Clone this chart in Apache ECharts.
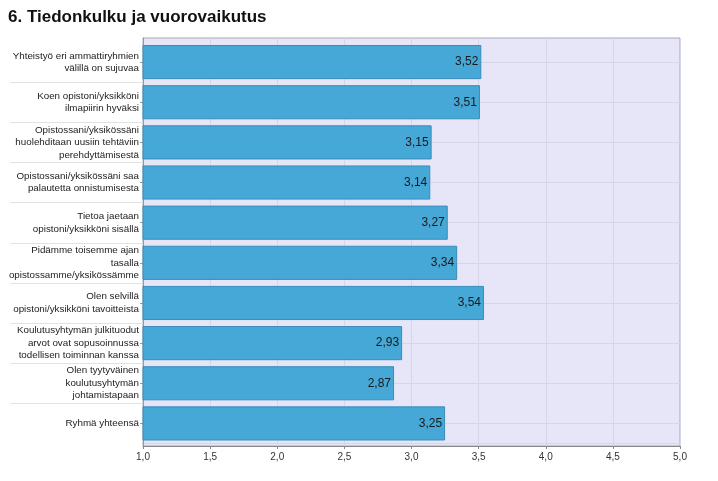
<!DOCTYPE html>
<html><head><meta charset="utf-8">
<script src="https://cdn.jsdelivr.net/npm/echarts@6/dist/echarts.min.js"></script>
<style>html,body{margin:0;padding:0;background:#fff}#c{width:718px;height:481px}</style>
</head><body><div id="c"></div>
<script>
const titleText = "6. Tiedonkulku ja vuorovaikutus";
const categories = [
  "Yhteistyö eri ammattiryhmien\nvälillä on sujuvaa",
  "Koen opistoni/yksikköni\nilmapiirin hyväksi",
  "Opistossani/yksikössäni\nhuolehditaan uusiin tehtäviin\nperehdyttämisestä",
  "Opistossani/yksikössäni saa\npalautetta onnistumisesta",
  "Tietoa jaetaan\nopistoni/yksikköni sisällä",
  "Pidämme toisemme ajan\ntasalla\nopistossamme/yksikössämme",
  "Olen selvillä\nopistoni/yksikköni tavoitteista",
  "Koulutusyhtymän julkituodut\narvot ovat sopusoinnussa\ntodellisen toiminnan kanssa",
  "Olen tyytyväinen\nkoulutusyhtymän\njohtamistapaan",
  "Ryhmä yhteensä"
];
const values = [3.52, 3.51, 3.15, 3.14, 3.27, 3.34, 3.54, 2.93, 2.87, 3.25];
const xMin = 1, xMax = 5, xStep = 0.5;

const halfCats = [];
categories.forEach((c, i) => { halfCats.push('a' + i); halfCats.push('b' + i); });
const sepCats = categories.slice(0, categories.length - 1);

const fmt = v => v.toFixed(1).replace('.', ',');
const font = 'Liberation Sans, Arial';
const band = (481 - 42 - 37.5) / categories.length;
const chart = echarts.init(document.getElementById('c'));
chart.setOption({
  animation: false,
  backgroundColor: '#fff',
  title: {
    text: titleText, left: 3, top: 4,
    textStyle: { fontFamily: font, fontSize: 17, fontWeight: 'bold', color: '#111' }
  },
  grid: [
    { left: 143, right: 38, top: 38, bottom: 35, containLabel: false, outerBoundsMode: 'none', show: true, backgroundColor: '#e6e6f8', borderColor: '#a8a8b8', borderWidth: 1, z: 0 },
    { left: 143, right: 38, top: 42, bottom: 37.5, containLabel: false, outerBoundsMode: 'none', show: false },
    { left: 143, right: 38, top: 42, bottom: 37.5 + band, containLabel: false, outerBoundsMode: 'none', show: false }
  ],
  xAxis: [
    {
      gridIndex: 0, type: 'value', min: xMin, max: xMax, interval: xStep,
      axisLine: { show: true, lineStyle: { color: '#888' } },
      axisTick: { show: true, length: 3, lineStyle: { color: '#888' } },
      axisLabel: { formatter: fmt, fontFamily: font, fontSize: 10, color: '#333', margin: 6 },
      splitLine: { show: true, lineStyle: { color: '#d6d6e8' } }
    },
    {
      gridIndex: 1, type: 'value', min: xMin, max: xMax, interval: xStep, show: false,
      splitLine: { show: false }
    },
    {
      gridIndex: 2, type: 'value', min: xMin, max: xMax, interval: xStep, show: false,
      splitLine: { show: false }
    }
  ],
  yAxis: [
    {
      gridIndex: 0, type: 'value', min: 0, max: 1, show: true,
      axisLine: { show: true, lineStyle: { color: '#999' } },
      axisTick: { show: false }, axisLabel: { show: false }, splitLine: { show: false }
    },
    {
      gridIndex: 1, type: 'category', data: categories, inverse: true,
      axisLine: { show: false },
      axisTick: { show: true, alignWithLabel: true, length: 3, lineStyle: { color: '#999' } },
      axisLabel: { fontFamily: font, fontSize: 9.8, color: '#222', lineHeight: 12.5, margin: 4 },
      splitLine: { show: false }
    },
    {
      gridIndex: 2, type: 'category', data: sepCats, inverse: true, position: 'left',
      axisLine: { show: false },
      axisTick: { show: true, length: 133, interval: (i) => i > 0, lineStyle: { color: '#e2e2e2' } },
      axisLabel: { show: false },
      splitLine: { show: false }
    },
    {
      gridIndex: 1, type: 'category', data: halfCats, inverse: true, position: 'right',
      axisLine: { show: false }, axisTick: { show: false }, axisLabel: { show: false },
      splitLine: { show: true, interval: (i) => i % 2 === 1, lineStyle: { color: '#d6d6e8' } }
    }
  ],
  series: [{
    type: 'bar', xAxisIndex: 1, yAxisIndex: 1, data: values, barCategoryGap: '15%',
    itemStyle: { color: '#45a8d6', borderColor: '#3a8cba', borderWidth: 1 },
    label: {
      show: true, position: 'insideRight', distance: 3,
      formatter: p => p.value.toFixed(2).replace('.', ','),
      fontFamily: font, fontSize: 12, color: '#1a1a1a'
    }
  }]
});
</script></body></html>
